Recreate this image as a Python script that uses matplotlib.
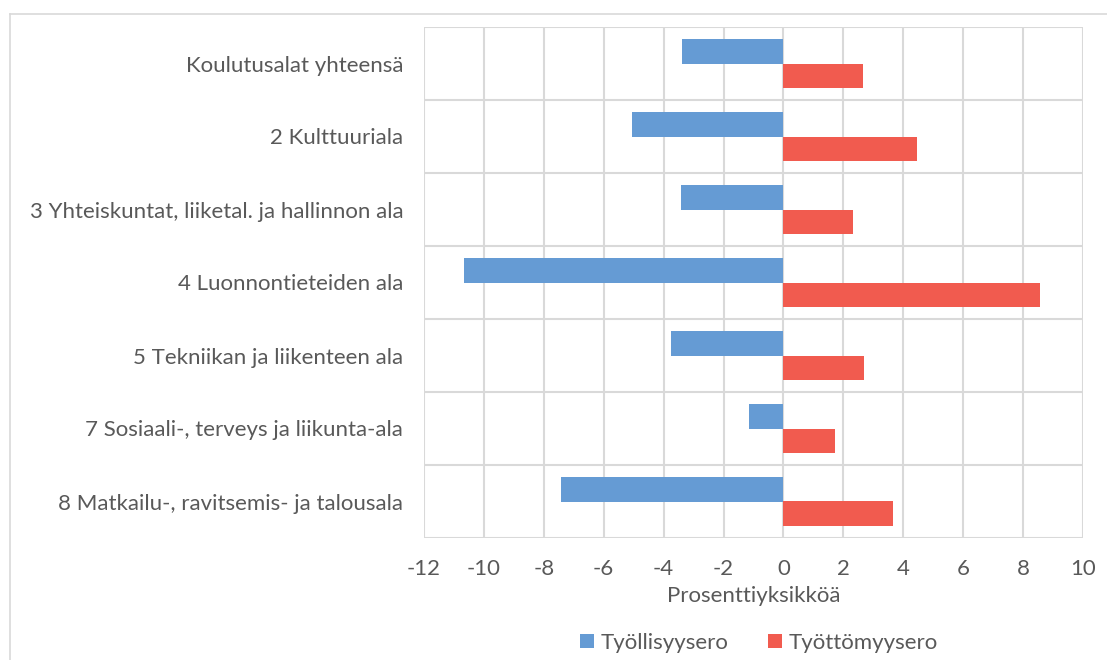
import numpy as np
import matplotlib.pyplot as plt
from matplotlib.lines import Line2D

categories = ['Koulutusalat yhteensä', '2 Kulttuuriala',
              '3 Yhteiskuntat, liiketal. ja hallinnon ala',
              '4 Luonnontieteiden ala', '5 Tekniikan ja liikenteen ala',
              '7 Sosiaali-, terveys ja liikunta-ala',
              '8 Matkailu-, ravitsemis- ja talousala']
tyollisyysero = [-3.38, -5.06, -3.41, -10.65, -3.77, -1.16, -7.43]
tyottomyysero = [2.67, 4.45, 2.33, 8.55, 2.68, 1.71, 3.65]
xticks = list(range(-12, 11, 2))

plt.rcParams['font.family'] = ['Lato', 'DejaVu Sans']
txt = '#595959'
grid = '#d9d9d9'
fs = 16

fig = plt.figure(figsize=(11.07, 6.6), dpi=100)
ax = fig.add_axes([424/1107, 1-538/660, (1083-424)/1107, (538-27)/660])

n = len(categories)
y = np.arange(n)[::-1]
h = 1/3
ax.barh(y + h/2, tyollisyysero, height=h, color='#659bd4', label='Työllisyysero', zorder=3)
ax.barh(y - h/2, tyottomyysero, height=h, color='#f15b4f', label='Työttömyysero', zorder=3)

ax.set_xlim(-12, 10)
ax.set_ylim(-0.5, n - 0.5)
ax.set_xticks(xticks)
ax.set_xticklabels([str(v) for v in xticks])
ax.set_yticks(y)
ax.set_yticklabels(categories)
ax.set_yticks(np.arange(-0.5, n, 1), minor=True)
ax.tick_params(axis='both', which='both', length=0, colors=txt, labelsize=fs)
ax.tick_params(axis='y', pad=15)
ax.tick_params(axis='x', pad=15)
ax.grid(axis='x', color=grid, lw=1.5, zorder=0)
ax.grid(axis='y', which='minor', color=grid, lw=1.5, zorder=0)
ax.grid(axis='y', which='major', visible=False)
for s in ax.spines.values():
    s.set_visible(False)

ax.set_xlabel('Prosenttiyksikköä', color=txt, fontsize=fs, labelpad=5)

fig.legend(loc='center', bbox_to_anchor=(759/1107, 1-643/660), ncol=2, frameon=False,
           handlelength=0.6, handleheight=0.6, handletextpad=0.3, columnspacing=1.8,
           fontsize=fs, labelcolor=txt)

fig.add_artist(Line2D([10/1107, 1], [1-14/660, 1-14/660], color=grid, lw=1.2))
fig.add_artist(Line2D([10/1107, 10/1107], [0, 1-14/660], color=grid, lw=1.2))

fig.savefig('out.png', dpi=100)
